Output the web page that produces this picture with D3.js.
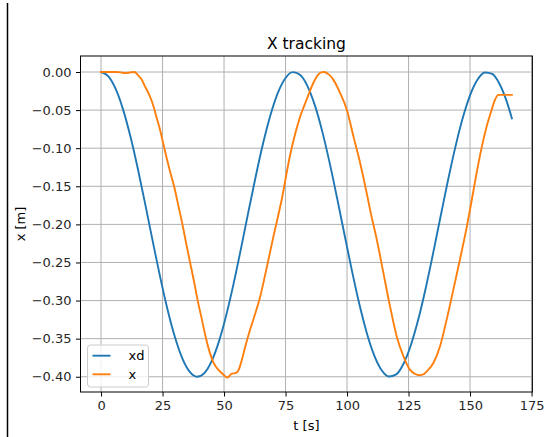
<!DOCTYPE html>
<html>
<head>
<meta charset="utf-8">
<script src="https://cdn.jsdelivr.net/npm/d3@7"></script>
<style>
  html, body { margin: 0; padding: 0; background: #fff; }
  svg { display: block; font-family: "DejaVu Sans", sans-serif; }
</style>
</head>
<body>
<svg id="chart" width="544" height="437"></svg>
<script>
// Desired trajectory xd (time in s, position in m)
const tDesired = [0, 3, 6, 9, 12, 15, 18, 21, 24, 27, 30, 33, 36, 39, 42, 45, 48, 51, 54, 57,
  60, 63, 66, 69, 72, 75, 78, 81, 84, 87, 90, 93, 96, 99, 102, 105, 108, 111, 114, 117,
  120, 123, 126, 129, 132, 135, 138, 141, 144, 147, 150, 153, 156, 159, 162, 165, 167];
const xDesired = [0.0000, -0.0057, -0.0226, -0.0497, -0.0854, -0.1277, -0.1741, -0.2220, -0.2686, -0.3113,
  -0.3476, -0.3755, -0.3933, -0.4000, -0.3952, -0.3792, -0.3529, -0.3178, -0.2761, -0.2299,
  -0.1820, -0.1352, -0.0920, -0.0551, -0.0264, -0.0078, -0.0002, -0.0040, -0.0191, -0.0445,
  -0.0789, -0.1203, -0.1662, -0.2140, -0.2610, -0.3046, -0.3421, -0.3715, -0.3911, -0.3996,
  -0.3968, -0.3826, -0.3579, -0.3243, -0.2834, -0.2378, -0.1900, -0.1428, -0.0989, -0.0607,
  -0.0306, -0.0102, -0.0006, -0.0026, -0.0158, -0.0396, -0.0607];

// Measured position x
const tActual = [0, 3, 6, 8, 10, 12, 13.5, 15, 16.5, 17.9, 19.3, 20.6, 21.6, 22.6, 24, 25.3, 26.6, 28,
  29.7, 31.4, 33.1, 34.6, 36.2, 37.8, 39.3, 41, 42.7, 44, 45.4, 46.5, 47.7, 49.7, 51.3, 52.2, 53.1,
  54.9, 56.2, 57.3, 58.5, 60.6, 62.6, 64.6, 67, 70, 73.4, 76.8, 79, 81, 82.5, 83.6, 85, 86.3, 88.3,
  89.5, 90.7, 92, 93.2, 94.4, 95.8, 97.2, 99.9, 102.6, 105.3, 108, 109.5, 112.1, 114.8, 117.5, 120.2,
  122.9, 125.6, 127.5, 129.4, 131, 132.4, 135.1, 137.8, 140.5, 143.2, 145.9, 148.7, 150.7, 152.7,
  154.8, 156.8, 158.8, 160.2, 161.5, 167];
const xActual = [0, 0, 0, -0.0005, -0.0015, -0.0005, 0, -0.004, -0.010, -0.019, -0.028, -0.038, -0.048,
  -0.060, -0.076, -0.094, -0.112, -0.130, -0.150, -0.175, -0.200, -0.225, -0.250, -0.275, -0.300,
  -0.325, -0.350, -0.366, -0.379, -0.386, -0.391, -0.397, -0.401, -0.399, -0.396, -0.395, -0.389,
  -0.377, -0.362, -0.338, -0.318, -0.296, -0.262, -0.217, -0.168, -0.110, -0.080, -0.058, -0.045,
  -0.036, -0.024, -0.0144, -0.0035, -0.0005, 0, -0.002, -0.005, -0.010, -0.018, -0.0276, -0.0495,
  -0.0845, -0.119, -0.159, -0.183, -0.220, -0.264, -0.308, -0.347, -0.373, -0.391, -0.396, -0.398,
  -0.397, -0.393, -0.382, -0.360, -0.325, -0.286, -0.246, -0.203, -0.168, -0.132, -0.098, -0.071,
  -0.0495, -0.036, -0.030, -0.030];

const xTicks = [0, 25, 50, 75, 100, 125, 150, 175];
const yTicks = [0, -0.05, -0.10, -0.15, -0.20, -0.25, -0.30, -0.35, -0.40];
const seriesNames = ["xd", "x"];
const seriesColors = ["#1f77b4", "#ff7f0e"];

const svg = d3.select("#chart");
const plot = { left: 80.5, right: 532.4, top: 56, bottom: 392 };

const x = d3.scaleLinear().domain([-8.35, 175.35]).range([plot.left, plot.right]);
const y = d3.scaleLinear().domain([-0.42, 0.021]).range([plot.bottom, plot.top]);

// Left rule at the figure edge
svg.append("line")
  .attr("x1", 7.5).attr("x2", 7.5).attr("y1", 3).attr("y2", 437)
  .attr("stroke", "#000").attr("stroke-width", 1.5);

// Grid
const grid = svg.append("g").attr("stroke", "#b0b0b0").attr("stroke-width", 1);
grid.selectAll(".gx").data(xTicks).join("line")
  .attr("x1", d => x(d)).attr("x2", d => x(d))
  .attr("y1", plot.top).attr("y2", plot.bottom);
grid.selectAll(".gy").data(yTicks).join("line")
  .attr("y1", d => y(d)).attr("y2", d => y(d))
  .attr("x1", plot.left).attr("x2", plot.right);

// Lines
svg.append("clipPath").attr("id", "clip").append("rect")
  .attr("x", plot.left).attr("y", plot.top)
  .attr("width", plot.right - plot.left).attr("height", plot.bottom - plot.top);

const line = d3.line().x(d => x(d[0])).y(d => y(d[1])).curve(d3.curveMonotoneX);
const series = [
  d3.zip(tDesired, xDesired),
  d3.zip(tActual, xActual)
];
svg.append("g").attr("clip-path", "url(#clip)")
  .selectAll("path").data(series).join("path")
  .attr("d", line)
  .attr("fill", "none")
  .attr("stroke", (d, i) => seriesColors[i])
  .attr("stroke-width", 1.9)
  .attr("stroke-linejoin", "round")
  .attr("stroke-linecap", "square");

// Axes
const fmt = v => d3.format(".2f")(v).replace("-", "\u2212");
const xAxis = d3.axisBottom(x).tickValues(xTicks).tickSize(4.5).tickPadding(4.5).tickFormat(d3.format("d"));
const yAxis = d3.axisLeft(y).tickValues(yTicks).tickSize(4.5).tickPadding(4.5).tickFormat(fmt);

const gx = svg.append("g").attr("transform", `translate(0,${plot.bottom})`).call(xAxis);
const gy = svg.append("g").attr("transform", `translate(${plot.left},0)`).call(yAxis);
[gx, gy].forEach(g => {
  g.select(".domain").remove();
  g.selectAll(".tick line").attr("stroke", "#000").attr("stroke-width", 1);
  g.selectAll(".tick text").attr("fill", "#262626").attr("font-size", 13)
    .attr("font-family", "DejaVu Sans, sans-serif");
});

// Frame
svg.append("rect")
  .attr("x", plot.left).attr("y", plot.top)
  .attr("width", plot.right - plot.left).attr("height", plot.bottom - plot.top)
  .attr("fill", "none").attr("stroke", "#000").attr("stroke-width", 1);

// Title and axis labels
const cx = (plot.left + plot.right) / 2;
svg.append("text").attr("x", cx).attr("y", 49).attr("text-anchor", "middle")
  .attr("font-size", 15.5).attr("fill", "#000").text("X tracking");
svg.append("text").attr("x", cx).attr("y", 430).attr("text-anchor", "middle")
  .attr("font-size", 13).attr("fill", "#000").text("t [s]");
svg.append("text")
  .attr("transform", `translate(25,${(plot.top + plot.bottom) / 2}) rotate(-90)`)
  .attr("text-anchor", "middle").attr("font-size", 13).attr("fill", "#000").text("x [m]");

// Legend
const lg = svg.append("g");
lg.append("rect")
  .attr("x", 87.5).attr("y", 345).attr("width", 61).attr("height", 42)
  .attr("rx", 3).attr("fill", "#fff").attr("fill-opacity", 0.8)
  .attr("stroke", "#cccccc").attr("stroke-width", 1);
seriesNames.forEach((name, i) => {
  const yy = 355.7 + i * 18.6;
  lg.append("line").attr("x1", 92.5).attr("x2", 110.5).attr("y1", yy).attr("y2", yy)
    .attr("stroke", seriesColors[i]).attr("stroke-width", 1.9);
  lg.append("text").attr("x", 128.5).attr("y", yy + 4.6)
    .attr("font-size", 13).attr("fill", "#000").text(name);
});
</script>
</body>
</html>
